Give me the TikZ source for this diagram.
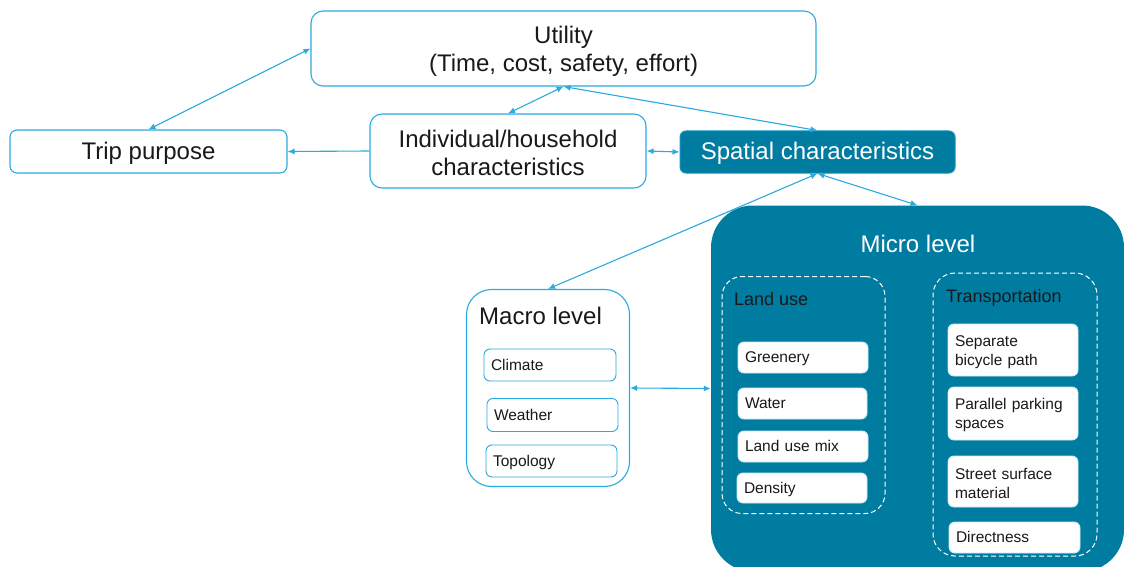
\documentclass[tikz,border=0pt]{standalone}
\usepackage{fontspec}
\setmainfont{Liberation Sans}
\usetikzlibrary{arrows.meta}
\definecolor{lblue}{RGB}{41,171,226}
\definecolor{tealc}{RGB}{0,124,160}
\definecolor{txt}{RGB}{25,25,25}
\begin{document}
\begin{tikzpicture}[x=1pt,y=-1pt,
  wbox/.style={draw=lblue, line width=1.1pt, fill=white, inner sep=0pt, text=txt},
  bigfont/.style={font=\fontsize{24}{28}\selectfont},
  big/.style={bigfont, text height=18pt, text depth=2.5pt},
  mid/.style={font=\fontsize{18}{22}\selectfont},
  itembase/.style={draw=lblue, line width=0.9pt, fill=white, rounded corners=6pt, inner xsep=7pt, inner ysep=0pt, align=left, font=\fontsize{15.5}{19}\selectfont, text=txt},
  item/.style={itembase, text height=12pt, text depth=1.5pt},
  mitem/.style={item, draw=lblue!25},
  mitemtwo/.style={itembase, draw=lblue!25},
  title/.style={inner sep=0pt, text=txt},
  dbox/.style={draw=white, line width=1pt, dash pattern=on 5pt off 3pt, inner sep=0pt},
  conn/.style={lblue, line width=1.1pt, {Latex[length=7pt,width=6pt]}-{Latex[length=7pt,width=6pt]}},
  conn1/.style={lblue, line width=1.1pt, -{Latex[length=7pt,width=6pt]}}
]
\useasboundingbox (0,0) rectangle (1124,567);
\fill[white] (0,0) rectangle (1124,567);

% top level
\node[wbox, bigfont, rounded corners=12pt, minimum width=505pt, minimum height=75pt, align=center] (utility) at (563.5,48.5) {\rule{0pt}{23pt}Utility\\(Time, cost, safety, effort)};
\node[wbox, big, rounded corners=7pt, minimum width=277pt, minimum height=43pt] (trip) at (148.5,151.5) {Trip purpose};
\node[wbox, bigfont, rounded corners=12pt, minimum width=276pt, minimum height=74pt, align=center] (indiv) at (508,151) {\rule{0pt}{21pt}Individual/household\\characteristics};
\node[fill=tealc, draw=lblue!50!tealc, line width=1pt, rounded corners=6pt, minimum width=275pt, minimum height=42pt, text=white, big, inner sep=0pt] (spatial) at (817.5,152) {Spatial characteristics};

% macro level
\node[wbox, rounded corners=25pt, minimum width=163pt, minimum height=197pt] (macro) at (548,388) {};
\node[title, big, anchor=west] (macrot) at (479,317) {Macro level};
\node[item, text width=118pt, minimum height=32pt] (climate) at (550,365) {Climate};
\node[item, text width=117pt, minimum height=33pt] (weather) at (552.5,415) {Weather};
\node[item, text width=117pt, minimum height=32pt] (topo) at (551.5,461) {Topology};

% micro level
\begin{scope}
\clip (0,0) rectangle (1124,567);
\node[fill=tealc, rounded corners=42pt, minimum width=413pt, minimum height=366pt, inner sep=0pt] (micro) at (917.5,388.5) {};
\end{scope}
\node[inner sep=0pt, text=white, big] (microt) at (918,245) {Micro level};

\node[dbox, rounded corners=20pt, minimum width=163pt, minimum height=237pt] (land) at (803.5,395) {};
\node[title, mid, anchor=west] (landt) at (734,299) {Land use};
\node[mitem, text width=116pt, minimum height=31pt] (green) at (803,357.5) {Greenery};
\node[mitem, text width=115pt, minimum height=31pt] (water) at (802.5,403.5) {Water};
\node[mitem, text width=116pt, minimum height=31pt] (mix) at (803,446.5) {Land use mix};
\node[mitem, text width=116pt, minimum height=30pt] (density) at (802,488) {Density};

\node[dbox, rounded corners=22pt, minimum width=164pt, minimum height=283pt] (trans) at (1015,414.5) {};
\node[title, mid, anchor=west] (transt) at (946,298) {Transportation};
\node[mitemtwo, text width=116pt, minimum height=52pt] (bike) at (1013,350) {\rule{0pt}{15pt}Separate\\bicycle path};
\node[mitemtwo, text width=116pt, minimum height=53pt] (park) at (1013,413.5) {\rule{0pt}{15pt}Parallel parking\\spaces};
\node[mitemtwo, text width=116pt, minimum height=51pt] (surf) at (1013,481.5) {\rule{0pt}{15pt}Street surface\\material};
\node[mitem, text width=117pt, minimum height=31pt] (direct) at (1014.5,537.5) {Directness};

% connectors
\draw[conn] (utility.west) -- (trip.north);
\draw[conn] (utility.south) -- (indiv.north);
\draw[conn] (utility.south) -- (spatial.north);
\draw[conn1] (indiv.west) -- (trip.east);
\draw[conn] (indiv.east) -- (spatial.west);
\draw[conn] (spatial.south) -- (macro.north);
\draw[conn] (spatial.south) -- (micro.north);
\draw[conn] (macro.east) -- (micro.west);
\end{tikzpicture}
\end{document}
